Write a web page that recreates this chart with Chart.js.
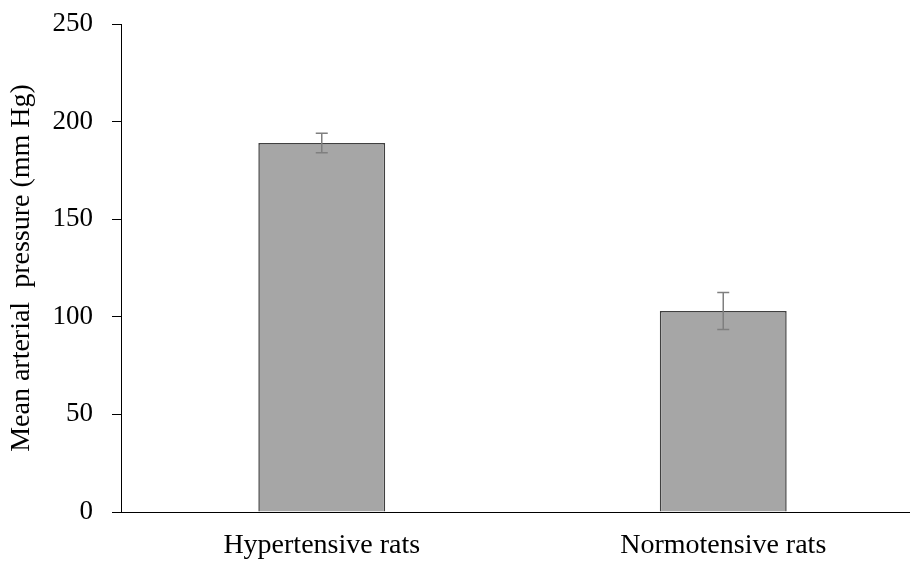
<!DOCTYPE html>
<html>
<head>
<meta charset="utf-8">
<script src="https://cdn.jsdelivr.net/npm/chart.js@4.4.1/dist/chart.umd.min.js"></script>
<style>
    html, body { margin: 0; padding: 0; background: #fff; overflow: hidden; }
    #wrap { width: 924px; height: 566px; }
</style>
</head>
<body>
<div id="wrap"><canvas id="myChart" width="924" height="566"></canvas></div>
<script>
const categories = ['Hypertensive rats', 'Normotensive rats'];
const means      = [189, 103];
const errors     = [5, 9.5];
const yTicks     = [0, 50, 100, 150, 200, 250];

// draws the +/- error bars on top of the bars
const errorBars = {
    id: 'errorBars',
    afterDatasetsDraw(chart) {
        const ctx  = chart.ctx;
        const meta = chart.getDatasetMeta(0);
        const y    = chart.scales.y;
        ctx.save();
        ctx.strokeStyle = '#7f7f7f';
        ctx.lineWidth   = 1.5;
        meta.data.forEach((bar, i) => {
            const x   = bar.x;
            const top = y.getPixelForValue(means[i] + errors[i]);
            const bot = y.getPixelForValue(means[i] - errors[i]);
            ctx.beginPath();
            ctx.moveTo(x, top); ctx.lineTo(x, bot);
            ctx.moveTo(x - 6, top); ctx.lineTo(x + 6, top);
            ctx.moveTo(x - 6, bot); ctx.lineTo(x + 6, bot);
            ctx.stroke();
        });
        ctx.restore();
    }
};

const family    = '"Liberation Serif", "Times New Roman", serif';
const tickFont  = { family: family, size: 27 };
const titleFont = { family: family, size: 28 };

new Chart(document.getElementById('myChart'), {
    type: 'bar',
    data: {
        labels: categories,
        datasets: [{
            data: means,
            backgroundColor: '#a6a6a6',
            borderColor: '#404040',
            borderWidth: 1.5,
            categoryPercentage: 1,
            barPercentage: 0.316
        }]
    },
    options: {
        responsive: false,
        animation: false,
        layout: { padding: { top: 24, left: 0, right: 0, bottom: 0 } },
        plugins: {
            legend: { display: false },
            tooltip: { enabled: false }
        },
        scales: {
            x: {
                grid: { display: false, drawTicks: false },
                border: { display: true, color: '#000', width: 1 },
                ticks: { color: '#000', font: { family: family, size: 28 }, padding: 17 },
                afterFit: (scale) => {
                    scale.height = 54;
                    scale.paddingLeft = 0;
                    scale.paddingRight = 0;
                }
            },
            y: {
                min: 0,
                max: 250,
                afterBuildTicks: (scale) => { scale.ticks = yTicks.map(v => ({ value: v })); },
                grid: { drawOnChartArea: false, drawTicks: true, tickLength: 9, color: '#000' },
                border: { display: true, color: '#000', width: 1 },
                ticks: { color: '#000', font: tickFont, padding: 19 },
                title: {
                    display: true,
                    text: 'Mean arterial  pressure (mm Hg)',
                    color: '#000',
                    font: titleFont,
                    padding: { top: 5, bottom: 0 }
                },
                afterFit: (scale) => {
                    scale.width = 121;
                    scale.paddingTop = 0;
                    scale.paddingBottom = 0;
                }
            }
        }
    },
    plugins: [errorBars]
});
</script>
</body>
</html>
